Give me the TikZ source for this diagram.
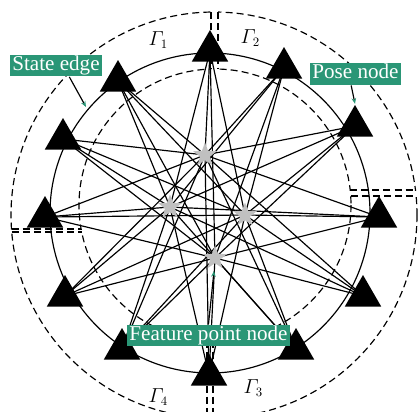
\documentclass[tikz,border=0pt]{standalone}
\usepackage{amsmath,amssymb}
\usepackage{fontspec}
\setmainfont{Liberation Serif}
\usepackage{tikz}
\usetikzlibrary{shapes.geometric,arrows.meta,calc}
\definecolor{tagteal}{RGB}{42,150,118}
\definecolor{featgray}{RGB}{192,192,192}

\begin{document}
\begin{tikzpicture}[x=0.03cm, y=-0.03cm, line width=1pt,
    >={Stealth[color=tagteal, length=5pt, width=4pt]}]
    \tikzset{
        posenode/.style={fill=black, shape=regular polygon, regular polygon sides=3, minimum size=1.26cm, inner sep=0pt},
        tag/.style={fill=tagteal, text=white, font=\fontsize{18}{20}\selectfont, inner xsep=2pt, inner ysep=1pt, text height=12.5pt, text depth=4pt},
        region/.style={dash pattern=on 6pt off 3.5pt},
        glabel/.style={font=\fontsize{16}{18}\selectfont, inner sep=0pt, anchor=base west}
    }
    \useasboundingbox (0,0) rectangle (418,411);

    % regions Gamma_1 ... Gamma_4
    \begin{scope}
        \clip (0,0) rectangle (211,229);
        \draw[region] (214,215) circle[radius=203];
        \draw[region] (215,205) circle[radius=136];
    \end{scope}
    \draw[region] (211,12) -- (211,69);
    \draw[region] (11.5,229) -- (81,229);
    \begin{scope}
        \clip (218,0) rectangle (418,190);
        \draw[region] (214,215) circle[radius=203];
        \draw[region] (215,205) circle[radius=136];
    \end{scope}
    \draw[region] (218,12) -- (218,69);
    \draw[region] (350,190) -- (415.5,190);
    \begin{scope}
        \clip (213,196) rectangle (418,411);
        \draw[region] (214,215) circle[radius=203];
        \draw[region] (215,205) circle[radius=136];
    \end{scope}
    \draw[region] (350.7,196) -- (416,196);
    \draw[region] (213,341) -- (213,418);
    \begin{scope}
        \clip (0,232) rectangle (207,411);
        \draw[region] (214,215) circle[radius=203];
        \draw[region] (215,205) circle[radius=136];
    \end{scope}
    \draw[region] (11.7,232) -- (81.7,232);
    \draw[region] (207,341) -- (207,418);

    % state edges ring
    \draw (210,213) circle[radius=160];

    % pose nodes
    \node[posenode] (p1) at (210,51) {};
    \node[posenode] (p2) at (284,68) {};
    \node[posenode] (p3) at (355,126) {};
    \node[posenode] (p4) at (379,217) {};
    \node[posenode] (p5) at (363,296) {};
    \node[posenode] (p6) at (296,349) {};
    \node[posenode] (p7) at (209,375) {};
    \node[posenode] (p8) at (122,349) {};
    \node[posenode] (p9) at (65,296) {};
    \node[posenode] (p10) at (45,217) {};
    \node[posenode] (p11) at (63,139) {};
    \node[posenode] (p12) at (118,81) {};

    % feature point nodes
    \coordinate (f1) at (205,155);
    \coordinate (f2) at (170,207);
    \coordinate (f3) at (245,215);
    \coordinate (f4) at (215,258);

    % observations
    \foreach \p in {1,...,12}
        \foreach \f in {1,...,4}
            \draw (p\p.center) -- (f\f);

    \foreach \f in {1,...,4}
        \fill[featgray] ($(f\f)+(-90:12.5)$)
            \foreach \k in {1,...,9} { -- ($(f\f)+({-90+36*\k}:{12.5-7.3*mod(\k,2)})$) } -- cycle;

    % region labels
    \node[glabel] (g1) at (148,45) {$\varGamma_{1}$};
    \node[glabel] (g2) at (240,43) {$\varGamma_{2}$};
    \node[glabel] (g3) at (243,393) {$\varGamma_{3}$};
    \node[glabel] (g4) at (148,402) {$\varGamma_{4}$};

    % tags
    \node[tag] (sedge) at (56,65.5) {State edge};
    \node[tag] (lpose) at (355.5,74) {Pose node};
    \node[tag] (lfeat) at (208.5,335.5) {Feature point node};
    \coordinate (sedgetip) at (86,107);
    \coordinate (feattip) at (214,271);
    \draw[->] ([xshift=0.4cm]sedge.south) -- (sedgetip);
    \draw[->] ([xshift=-0.13cm]lpose.south) -- (p3.corner 1);
    \draw[->] (lfeat.north) -- (feattip);
\end{tikzpicture}
\end{document}
